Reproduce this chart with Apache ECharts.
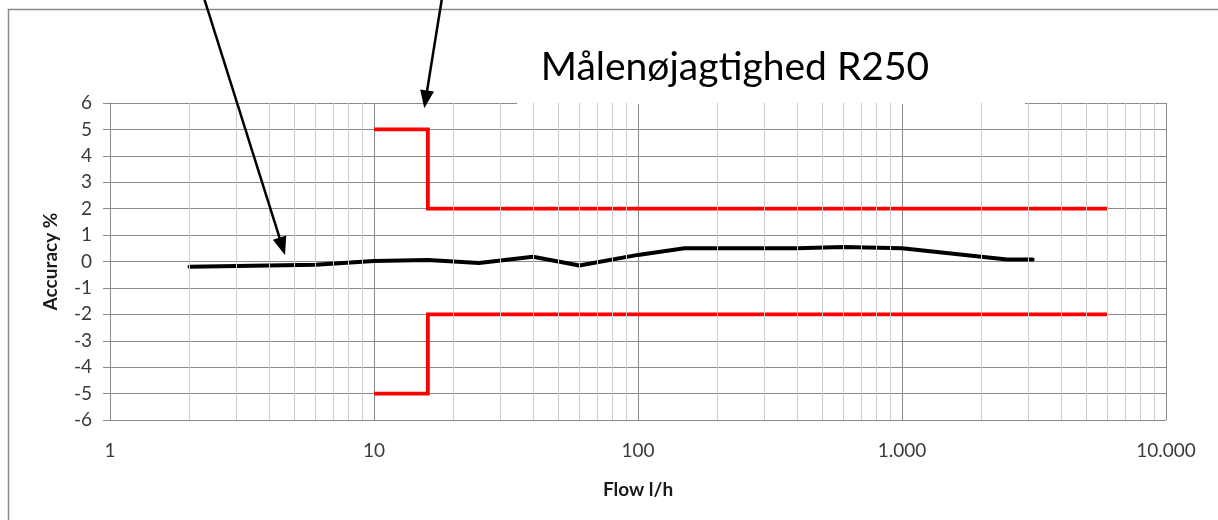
<!DOCTYPE html>
<html>
<head>
<meta charset="utf-8">
<script src="https://cdn.jsdelivr.net/npm/echarts@6/dist/echarts.min.js"></script>
<style>
html,body{margin:0;padding:0;background:#fff;}
#chart{width:1218px;height:520px;}
</style>
</head>
<body>
<div id="chart"></div>
<script>
// ---- data ----
const flow     = [2, 6, 10, 16, 25, 40, 60, 100, 150, 250, 400, 600, 1000, 2500, 3125];
const accuracy = [-0.2, -0.12, 0.02, 0.06, -0.06, 0.18, -0.15, 0.25, 0.5, 0.5, 0.5, 0.55, 0.5, 0.08, 0.08];

const limitFlow  = [10, 16, 16, 6000];
const upperLimit = [5, 5, 2, 2];
const lowerLimit = [-5, -5, -2, -2];

const xTickValues = [1, 10, 100, 1000, 10000];
const xTickLabels = ['1', '10', '100', '1.000', '10.000'];
const yTicks = [-6, -5, -4, -3, -2, -1, 0, 1, 2, 3, 4, 5, 6];

// minor log grid positions (2..9 in every decade)
const decades = [1, 10, 100, 1000];
const minorSteps = [2, 3, 4, 5, 6, 7, 8, 9];
const minorGrid = [];
decades.forEach(d => minorSteps.forEach(s => minorGrid.push(d * s)));

const titleText = 'Målenøjagtighed R250';
const xName = 'Flow l/h';
const yName = 'Accuracy %';

const FONT = 'Lato, "Noto Sans", sans-serif';

const chart = echarts.init(document.getElementById('chart'));

const option = {
  animation: false,
  backgroundColor: '#ffffff',
  title: {
    text: titleText,
    left: 730,
    top: 43,
    textAlign: 'center',
    textStyle: { fontFamily: FONT, fontSize: 39, fontWeight: 'normal', color: '#000000' },
    z: 10
  },
  grid: { left: 110, right: 52, top: 103, bottom: 100, containLabel: false },
  xAxis: {
    type: 'log',
    logBase: 10,
    min: 1,
    max: 10000,
    splitNumber: 4,
    z: 1.5,
    name: xName,
    nameLocation: 'middle',
    nameGap: 60,
    nameTextStyle: { fontFamily: FONT, fontSize: 19, fontWeight: 'bold', color: '#1a1a1a' },
    axisLine: { show: true, lineStyle: { color: '#8a8a8a', width: 1 } },
    axisTick: { show: false },
    axisLabel: {
      fontFamily: FONT, fontSize: 19, color: '#3a3a3a', margin: 21,
      formatter: v => {
        const i = xTickValues.findIndex(t => Math.abs(t - v) < 1e-6 * t);
        return i >= 0 ? xTickLabels[i] : '';
      }
    },
    splitLine: { show: true, lineStyle: { color: '#8a8a8a', width: 1 } }
  },
  yAxis: {
    type: 'value',
    min: -6,
    max: 6,
    interval: 1,
    z: 1.5,
    name: yName,
    nameLocation: 'middle',
    nameGap: 50,
    nameRotate: 90,
    nameTextStyle: { fontFamily: FONT, fontSize: 19, fontWeight: 'bold', color: '#1a1a1a' },
    axisLine: { show: true, lineStyle: { color: '#8a8a8a', width: 1 } },
    axisTick: { show: true, length: 7, inside: false, lineStyle: { color: '#8a8a8a' } },
    axisLabel: { fontFamily: FONT, fontSize: 19, color: '#3a3a3a', margin: 18 },
    splitLine: { show: true, lineStyle: { color: '#8a8a8a', width: 1 } }
  },
  graphic: [
    // outer chart border
    { type: 'rect', z: 0, silent: true,
      shape: { x: 8.5, y: 9.5, width: 1300, height: 600 },
      style: { fill: null, stroke: '#8a8a8a', lineWidth: 1.5 } },
    // white title box hiding part of the top grid line
    { type: 'rect', z: 1.8, silent: true,
      shape: { x: 517, y: 30, width: 508, height: 74.2 },
      style: { fill: '#ffffff' } }
  ],
  series: [
    {
      name: 'minor grid',
      type: 'line',
      data: [],
      silent: true,
      z: 1,
      markLine: {
        silent: true,
        symbol: ['none', 'none'],
        animation: false,
        label: { show: false },
        lineStyle: { color: '#cccccc', width: 1, type: 'solid' },
        emphasis: { disabled: true },
        data: minorGrid.map(v => ({ xAxis: v }))
      }
    },
    {
      name: 'upper limit',
      type: 'line',
      data: limitFlow.map((f, i) => [f, upperLimit[i]]),
      showSymbol: false,
      symbol: 'none',
      z: 3,
      lineStyle: { color: '#ff0000', width: 3.8, cap: 'butt', join: 'miter' }
    },
    {
      name: 'lower limit',
      type: 'line',
      data: limitFlow.map((f, i) => [f, lowerLimit[i]]),
      showSymbol: false,
      symbol: 'none',
      z: 3,
      lineStyle: { color: '#ff0000', width: 3.8, cap: 'butt', join: 'miter' }
    },
    {
      name: 'accuracy',
      type: 'line',
      data: flow.map((f, i) => [f, accuracy[i]]),
      showSymbol: false,
      symbol: 'none',
      z: 4,
      lineStyle: { color: '#000000', width: 4, cap: 'round', join: 'round' }
    }
  ]
};

chart.setOption(option);

// annotation arrows (tips placed through the chart's own scales)
function arrow(tail, tip) {
  const dx = tip[0] - tail[0], dy = tip[1] - tail[1];
  const len = Math.sqrt(dx * dx + dy * dy);
  const ux = dx / len, uy = dy / len;
  const hl = 18, hw = 7;
  const bx = tip[0] - ux * hl, by = tip[1] - uy * hl;
  return {
    type: 'group', z: 20, silent: true,
    children: [
      { type: 'line', z: 20, shape: { x1: tail[0], y1: tail[1], x2: bx + ux * 2, y2: by + uy * 2 },
        style: { stroke: '#000000', lineWidth: 2.5 } },
      { type: 'polygon', z: 20,
        shape: { points: [tip, [bx - uy * hw, by + ux * hw], [bx + uy * hw, by - ux * hw]] },
        style: { fill: '#000000' } }
    ]
  };
}
const tip1 = chart.convertToPixel({ gridIndex: 0 }, [4.6, 0.25]);
const tip2 = chart.convertToPixel({ gridIndex: 0 }, [15.5, 5.8]);
const g = option.graphic.slice();
g.push(arrow([204, -2], tip1));
g.push(arrow([442, -2], tip2));
chart.setOption({ graphic: g });
</script>
</body>
</html>
